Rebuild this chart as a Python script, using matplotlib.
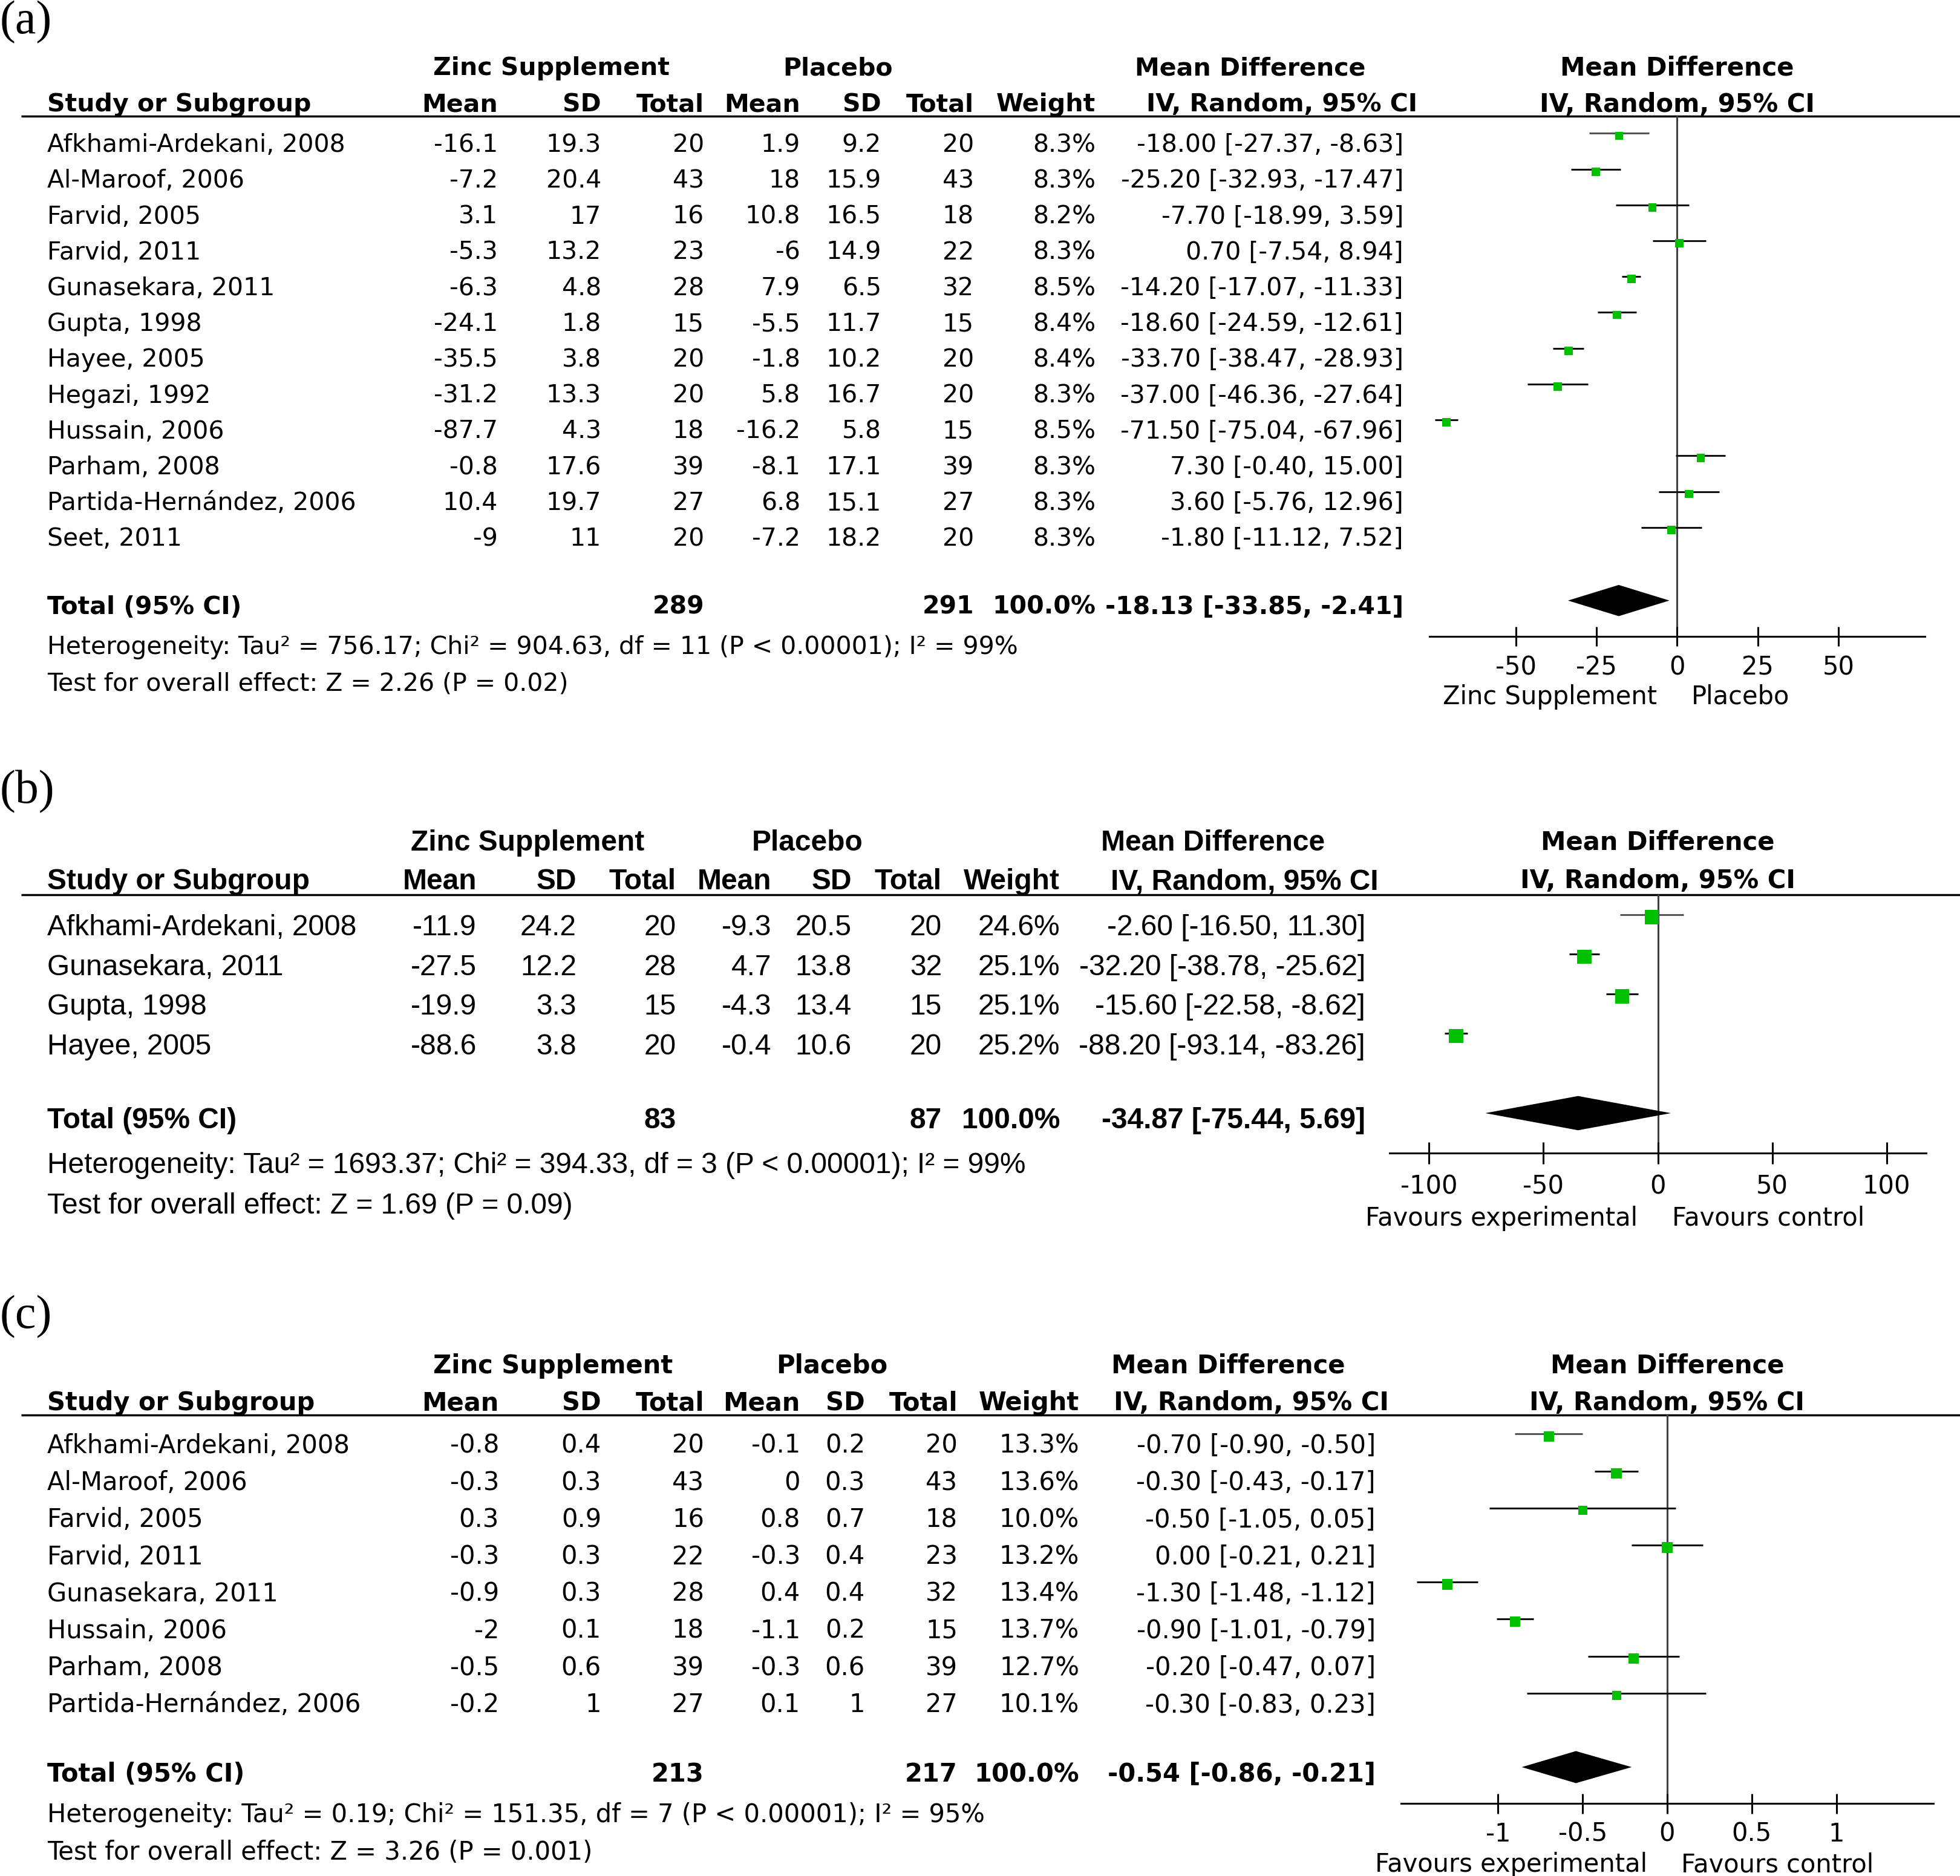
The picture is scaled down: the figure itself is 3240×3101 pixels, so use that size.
import numpy as np
import matplotlib.pyplot as plt
from matplotlib.patches import Polygon
from matplotlib.ticker import FuncFormatter

plt.rcParams['axes.unicode_minus'] = False

W, H = 3241, 3101
GREEN = '#00c000'

# ---------------- (a) ----------------
studies_a = ['Afkhami-Ardekani, 2008', 'Al-Maroof, 2006', 'Farvid, 2005', 'Farvid, 2011',
             'Gunasekara, 2011', 'Gupta, 1998', 'Hayee, 2005', 'Hegazi, 1992',
             'Hussain, 2006', 'Parham, 2008', 'Partida-Hernández, 2006', 'Seet, 2011']
zinc_mean_a = [-16.1, -7.2, 3.1, -5.3, -6.3, -24.1, -35.5, -31.2, -87.7, -0.8, 10.4, -9]
zinc_sd_a = [19.3, 20.4, 17, 13.2, 4.8, 1.8, 3.8, 13.3, 4.3, 17.6, 19.7, 11]
zinc_n_a = [20, 43, 16, 23, 28, 15, 20, 20, 18, 39, 27, 20]
plac_mean_a = [1.9, 18, 10.8, -6, 7.9, -5.5, -1.8, 5.8, -16.2, -8.1, 6.8, -7.2]
plac_sd_a = [9.2, 15.9, 16.5, 14.9, 6.5, 11.7, 10.2, 16.7, 5.8, 17.1, 15.1, 18.2]
plac_n_a = [20, 43, 18, 22, 32, 15, 20, 20, 15, 39, 27, 20]
weight_a = [8.3, 8.3, 8.2, 8.3, 8.5, 8.4, 8.4, 8.3, 8.5, 8.3, 8.3, 8.3]
md_a = [-18.00, -25.20, -7.70, 0.70, -14.20, -18.60, -33.70, -37.00, -71.50, 7.30, 3.60, -1.80]
lo_a = [-27.37, -32.93, -18.99, -7.54, -17.07, -24.59, -38.47, -46.36, -75.04, -0.40, -5.76, -11.12]
hi_a = [-8.63, -17.47, 3.59, 8.94, -11.33, -12.61, -28.93, -27.64, -67.96, 15.00, 12.96, 7.52]
total_a = [-18.13, -33.85, -2.41]
het_a = 'Heterogeneity: Tau² = 756.17; Chi² = 904.63, df = 11 (P < 0.00001); I² = 99%'
test_a = 'Test for overall effect: Z = 2.26 (P = 0.02)'
ticks_a = [-50, -25, 0, 25, 50]
favours_a = ['Zinc Supplement', 'Placebo']

# ---------------- (b) ----------------
studies_b = ['Afkhami-Ardekani, 2008', 'Gunasekara, 2011', 'Gupta, 1998', 'Hayee, 2005']
zinc_mean_b = [-11.9, -27.5, -19.9, -88.6]
zinc_sd_b = [24.2, 12.2, 3.3, 3.8]
zinc_n_b = [20, 28, 15, 20]
plac_mean_b = [-9.3, 4.7, -4.3, -0.4]
plac_sd_b = [20.5, 13.8, 13.4, 10.6]
plac_n_b = [20, 32, 15, 20]
weight_b = [24.6, 25.1, 25.1, 25.2]
md_b = [-2.60, -32.20, -15.60, -88.20]
lo_b = [-16.50, -38.78, -22.58, -93.14]
hi_b = [11.30, -25.62, -8.62, -83.26]
total_b = [-34.87, -75.44, 5.69]
het_b = 'Heterogeneity: Tau² = 1693.37; Chi² = 394.33, df = 3 (P < 0.00001); I² = 99%'
test_b = 'Test for overall effect: Z = 1.69 (P = 0.09)'
ticks_b = [-100, -50, 0, 50, 100]
favours_b = ['Favours experimental', 'Favours control']

# ---------------- (c) ----------------
studies_c = ['Afkhami-Ardekani, 2008', 'Al-Maroof, 2006', 'Farvid, 2005', 'Farvid, 2011',
             'Gunasekara, 2011', 'Hussain, 2006', 'Parham, 2008', 'Partida-Hernández, 2006']
zinc_mean_c = [-0.8, -0.3, 0.3, -0.3, -0.9, -2, -0.5, -0.2]
zinc_sd_c = [0.4, 0.3, 0.9, 0.3, 0.3, 0.1, 0.6, 1]
zinc_n_c = [20, 43, 16, 22, 28, 18, 39, 27]
plac_mean_c = [-0.1, 0, 0.8, -0.3, 0.4, -1.1, -0.3, 0.1]
plac_sd_c = [0.2, 0.3, 0.7, 0.4, 0.4, 0.2, 0.6, 1]
plac_n_c = [20, 43, 18, 23, 32, 15, 39, 27]
weight_c = [13.3, 13.6, 10.0, 13.2, 13.4, 13.7, 12.7, 10.1]
md_c = [-0.70, -0.30, -0.50, 0.00, -1.30, -0.90, -0.20, -0.30]
lo_c = [-0.90, -0.43, -1.05, -0.21, -1.48, -1.01, -0.47, -0.83]
hi_c = [-0.50, -0.17, 0.05, 0.21, -1.12, -0.79, 0.07, 0.23]
total_c = [-0.54, -0.86, -0.21]
het_c = 'Heterogeneity: Tau² = 0.19; Chi² = 151.35, df = 7 (P < 0.00001); I² = 95%'
test_c = 'Test for overall effect: Z = 3.26 (P = 0.001)'
ticks_c = [-1, -0.5, 0, 0.5, 1]
favours_c = ['Favours experimental', 'Favours control']

# layout in output pixels (y measured from the top)
LAY_A = dict(label='(a)', font='DejaVu Sans', fs=29.5, pfs=30, lab_y=55,
             h1=109.6, h2=169.5, hline=191.7, row0=236.5, dy=59.2, mk=-12,
             total=1000, het=1066.6, test=1126.5, axis=1052.3, tick_lab=1097.5,
             foot=1148.5, tick_len=32, cols=[823, 994, 1164, 1323, 1457, 1610, 1811, 2320],
             grp=[912, 1385, 2067], iv=2119, plot_x=(2363, 3182), lim=76.8,
             dmd=-7.3, dmd_h=25.8)
LAY_B = dict(label='(b)', font='Liberation Sans', fs=34.5, pfs=30, lab_y=1327,
             h1=1389, h2=1453, hline=1479.3, row0=1529, dy=65.5, mk=-13,
             total=1848, het=1922, test=1988.5, axis=1905.7, tick_lab=1955,
             foot=2011, tick_len=36, cols=[788, 953, 1118, 1275, 1408, 1557, 1752, 2257],
             grp=[872, 1335, 2005], iv=2057, plot_x=(2297, 3184), lim=117.3,
             dmd=-8, dmd_h=28.3)
LAY_C = dict(label='(c)', font='DejaVu Sans', fs=30, pfs=30, lab_y=2195,
             h1=2255, h2=2316, hline=2339.3, row0=2387, dy=61.2, mk=-12.7,
             total=2930, het=2997, test=3059, axis=2981, tick_lab=3026,
             foot=3079, tick_len=33, cols=[825, 994, 1164, 1323, 1430, 1583, 1784, 2274],
             grp=[914, 1375, 2030], iv=2069, plot_x=(2316, 3196), lim=1.574,
             dmd=-9, dmd_h=26.5)

fig = plt.figure(figsize=(W / 100, H / 100), dpi=100)
bg = fig.add_axes([0, 0, 1, 1])
bg.set_xlim(0, W)
bg.set_ylim(H, 0)
bg.axis('off')


def put(x, yc, s, font, fs, ha='left', bold=False):
    # yc = visual centre of the capitals; cap height in px is about fs here
    bg.text(x, yc + fs / 2, s, ha=ha, va='baseline', family=[font, 'DejaVu Sans'],
            fontsize=fs, fontweight='bold' if bold else 'normal')


def panel(L, studies, zm, zsd, zn, pm, psd, pn, wt, md, lo, hi, tot, het, test, ticks, fav):
    f, fs = L['font'], L['fs']
    pfs = L['pfs']
    cols = L['cols']
    bg.text(0, L['lab_y'], L['label'], family=['Liberation Serif'], fontsize=56,
            ha='left', va='baseline')

    # headers
    put(L['grp'][0], L['h1'], 'Zinc Supplement', f, fs, 'center', True)
    put(L['grp'][1], L['h1'], 'Placebo', f, fs, 'center', True)
    put(L['grp'][2], L['h1'], 'Mean Difference', f, fs, 'center', True)
    put(78, L['h2'], 'Study or Subgroup', f, fs, bold=True)
    for x, s in zip(cols[:7], ['Mean', 'SD', 'Total', 'Mean', 'SD', 'Total', 'Weight']):
        put(x, L['h2'], s, f, fs, 'right', True)
    put(L['iv'], L['h2'], 'IV, Random, 95% CI', f, fs, 'center', True)
    bg.plot([35, W], [L['hline'], L['hline']], color='black', lw=2.5,
            solid_capstyle='butt')

    # study rows
    ys = L['row0'] + L['dy'] * np.arange(len(studies))
    for i, y in enumerate(ys):
        put(78, y, studies[i], f, fs)
        vals = ['%g' % zm[i], '%g' % zsd[i], '%d' % zn[i], '%g' % pm[i], '%g' % psd[i],
                '%d' % pn[i], '%.1f%%' % wt[i],
                '%.2f [%.2f, %.2f]' % (md[i], lo[i], hi[i])]
        for x, s in zip(cols, vals):
            put(x, y, s, f, fs, 'right')

    # total rows
    put(78, L['total'], 'Total (95% CI)', f, fs, bold=True)
    put(cols[2], L['total'], '%d' % sum(zn), f, fs, 'right', True)
    put(cols[5], L['total'], '%d' % sum(pn), f, fs, 'right', True)
    put(cols[6], L['total'], '100.0%', f, fs, 'right', True)
    put(cols[7], L['total'], '%.2f [%.2f, %.2f]' % tuple(tot), f, fs, 'right', True)
    put(78, L['het'], het, f, fs)
    put(78, L['test'], test, f, fs)

    # forest plot
    x0, x1 = L['plot_x']
    ax = fig.add_axes([x0 / W, 1 - L['axis'] / H, (x1 - x0) / W,
                       (L['axis'] - L['hline']) / H])
    ax.set_xlim(-L['lim'], L['lim'])
    ax.set_ylim(L['axis'], L['hline'])
    ax.patch.set_visible(False)
    for s in ['top', 'left', 'right']:
        ax.spines[s].set_visible(False)
    ax.spines['bottom'].set_linewidth(2.2)
    ax.set_yticks([])
    ax.set_xticks(ticks)
    ax.xaxis.set_major_formatter(FuncFormatter(lambda v, p: '%g' % v))
    pad = ((L['tick_lab'] - pfs / 2) - (L['axis'] + L['tick_len'] / 2)) * 0.72
    ax.tick_params(axis='x', direction='inout', length=L['tick_len'] * 0.72, width=2.2,
                   pad=pad, labelsize=pfs, labelfontfamily='DejaVu Sans')

    ax.axvline(0, color='#404040', lw=2.2, zorder=1)
    my = ys + L['mk']
    ci_col = ['#555555'] + ['#111111'] * (len(ys) - 1)
    ax.hlines(my - 4, lo, hi, colors=ci_col, lw=2.2, zorder=2)
    side = 4.75 * np.sqrt(np.array(wt)) * 0.72
    ax.scatter(md, my, s=side ** 2, marker='s', color=GREEN, linewidths=0, zorder=3)

    yd = L['total'] + L['dmd']
    h = L['dmd_h']
    ax.add_patch(Polygon([(tot[1], yd), (tot[0], yd - h), (tot[2], yd), (tot[0], yd + h)],
                         closed=True, facecolor='black', edgecolor='none', zorder=3))

    xc = (x0 + x1) / 2
    put(xc, L['h1'], 'Mean Difference', 'DejaVu Sans', pfs, 'center', True)
    put(xc, L['h2'], 'IV, Random, 95% CI', 'DejaVu Sans', pfs, 'center', True)
    ax.annotate(fav[0], xy=(0, L['foot'] + pfs / 2), xytext=(-33 * 0.72, 0),
                textcoords='offset points', ha='right', va='baseline',
                family='DejaVu Sans', fontsize=pfs, annotation_clip=False)
    ax.annotate(fav[1], xy=(0, L['foot'] + pfs / 2), xytext=(23 * 0.72, 0),
                textcoords='offset points', ha='left', va='baseline',
                family='DejaVu Sans', fontsize=pfs, annotation_clip=False)


panel(LAY_A, studies_a, zinc_mean_a, zinc_sd_a, zinc_n_a, plac_mean_a, plac_sd_a, plac_n_a,
      weight_a, md_a, lo_a, hi_a, total_a, het_a, test_a, ticks_a, favours_a)
panel(LAY_B, studies_b, zinc_mean_b, zinc_sd_b, zinc_n_b, plac_mean_b, plac_sd_b, plac_n_b,
      weight_b, md_b, lo_b, hi_b, total_b, het_b, test_b, ticks_b, favours_b)
panel(LAY_C, studies_c, zinc_mean_c, zinc_sd_c, zinc_n_c, plac_mean_c, plac_sd_c, plac_n_c,
      weight_c, md_c, lo_c, hi_c, total_c, het_c, test_c, ticks_c, favours_c)

fig.savefig('out.png', dpi=100, facecolor='white')
